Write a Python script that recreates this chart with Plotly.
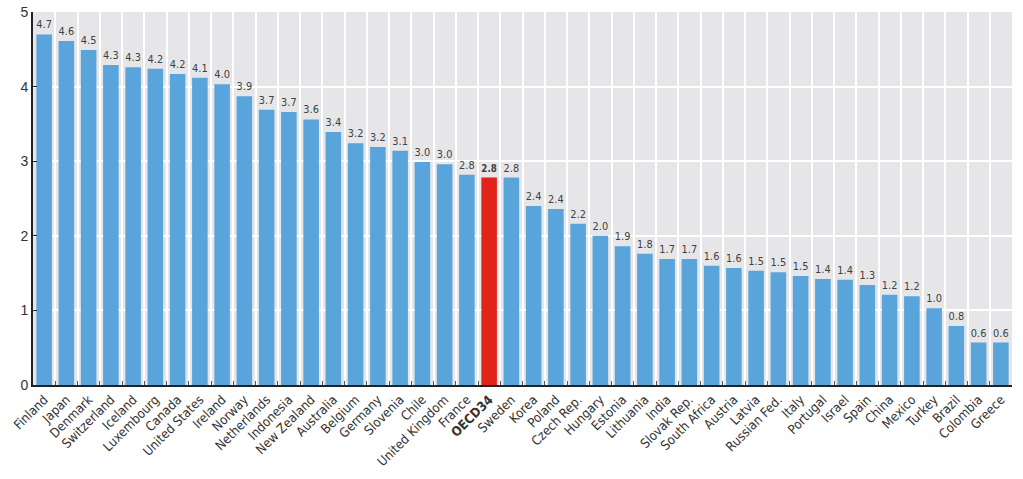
import plotly.graph_objects as go

countries = ["Finland", "Japan", "Denmark", "Switzerland", "Iceland", "Luxembourg", "Canada",
             "United States", "Ireland", "Norway", "Netherlands", "Indonesia", "New Zealand",
             "Australia", "Belgium", "Germany", "Slovenia", "Chile", "United Kingdom", "France",
             "OECD34", "Sweden", "Korea", "Poland", "Czech Rep.", "Hungary", "Estonia",
             "Lithuania", "India", "Slovak Rep.", "South Africa", "Austria", "Latvia",
             "Russian Fed.", "Italy", "Portugal", "Israel", "Spain", "China", "Mexico",
             "Turkey", "Brazil", "Colombia", "Greece"]
values = [4.70, 4.61, 4.49, 4.29, 4.26, 4.24, 4.17, 4.12, 4.03, 3.87, 3.69, 3.66, 3.56,
          3.39, 3.24, 3.19, 3.14, 2.99, 2.96, 2.82, 2.78, 2.78, 2.40, 2.36, 2.16, 2.00,
          1.86, 1.76, 1.69, 1.69, 1.60, 1.57, 1.53, 1.51, 1.46, 1.42, 1.41, 1.34, 1.21,
          1.19, 1.03, 0.79, 0.57, 0.57]
highlight = "OECD34"

BLUE = "#5aa4dc"
RED = "#e2231a"
FONT = "DejaVu Sans Condensed, Liberation Sans Narrow, Arial Narrow, Liberation Sans, Arial"

colors = [RED if c == highlight else BLUE for c in countries]
labels = [f"<b>{v:.1f}</b>" if c == highlight else f"{v:.1f}" for c, v in zip(countries, values)]
ticktext = [f"<b>{c}</b>" if c == highlight else c for c in countries]

fig = go.Figure(go.Bar(
    x=countries, y=values, marker=dict(color=colors, line=dict(width=0)),
    text=labels, textposition="outside", cliponaxis=False,
    textfont=dict(family=FONT, size=11, color="#404040"),
))

fig.update_layout(
    width=1023, height=479,
    margin=dict(l=33, r=11, t=12, b=94),
    paper_bgcolor="white", plot_bgcolor="#e6e6e8",
    bargap=0.3, showlegend=False,
    font=dict(family=FONT, color="#333333"),
)
fig.update_xaxes(
    type="category", tickmode="array", tickvals=countries, ticktext=ticktext,
    tickangle=-45, tickfont=dict(size=13, color="#333333", family=FONT),
    showgrid=True, gridcolor="white", gridwidth=2, tickson="boundaries",
    ticks="inside", ticklen=4, tickcolor="#555555",
    showline=True, linecolor="#222222", linewidth=2,
    range=[-0.5, len(countries) - 0.5], automargin=False,
)
fig.update_yaxes(
    range=[0, 5], dtick=1, tickfont=dict(size=14, color="#333333", family="Liberation Sans, Arial"),
    showgrid=True, gridcolor="white", gridwidth=2, zeroline=False,
    ticks="inside", ticklen=4, tickcolor="#222222",
    showline=True, linecolor="#222222", linewidth=2, automargin=False,
)

fig.write_html("out.html", config={"displayModeBar": False},
               post_script="document.body.style.margin='0';document.body.style.overflow='hidden';")
